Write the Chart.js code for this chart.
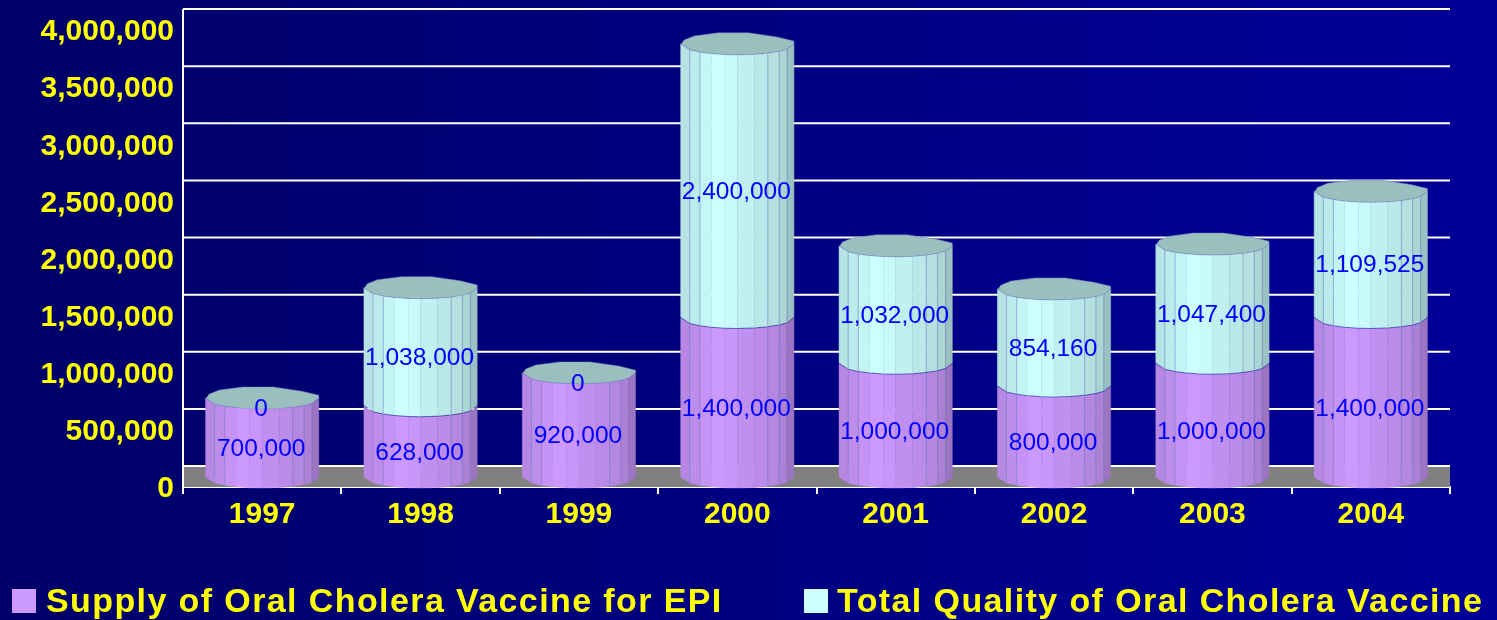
<!DOCTYPE html>
<html>
<head>
<meta charset="utf-8">
<title>Oral Cholera Vaccine</title>
<script src="https://cdn.jsdelivr.net/npm/chart.js@4/dist/chart.umd.min.js"></script>
<style>
html, body { margin: 0; padding: 0; width: 1497px; height: 620px; overflow: hidden;
  background: linear-gradient(to right, #000068, #000099); }
canvas { display: block; }
</style>
</head>
<body>
<canvas id="chart" width="1497" height="620"></canvas>
<script>
const years = ['1997', '1998', '1999', '2000', '2001', '2002', '2003', '2004'];
const supplyEpi = [700000, 628000, 920000, 1400000, 1000000, 800000, 1000000, 1400000];
const totalQuality = [0, 1038000, 0, 2400000, 1032000, 854160, 1047400, 1109525];
const seriesNames = ['Supply of Oral Cholera Vaccine for EPI', 'Total Quality of Oral Cholera Vaccine'];

const FONT = '"Liberation Sans", Arial, sans-serif';
const DEPTH = 21;      // back wall sits this far above the front plane
const RY = 11;         // cylinder ellipse height
const facets = [0, .08, .17, .27, .39, .5, .65, .77, .87, .94, 1];
const shades = [.89, .92, .96, 1, .98, .94, .91, .88, .84, .76];
const bodyColors = [[204, 153, 255], [204, 255, 255]];
const capBack = [[1, -.25], [.85, -.62], [.6, -1], [.33, -1], [.12, -.72], [.03, -.35], [0, .1]];

function curve(f) {
    return Math.sqrt(Math.max(0, 1 - Math.pow(2 * f - 1, 2)));
}

function drawBody(ctx, bar, rgb) {
    var left = bar.x - bar.width / 2;
    var topC = bar.y - RY + 2;
    var botC = bar.base - RY + 1;
    for (var k = 0; k < shades.length; k++) {
        var x0 = left + facets[k] * bar.width, x1 = left + facets[k + 1] * bar.width;
        var c0 = curve(facets[k]) * RY, c1 = curve(facets[k + 1]) * RY;
        ctx.beginPath();
        ctx.moveTo(x0, topC + c0);
        ctx.lineTo(x1, topC + c1);
        ctx.lineTo(x1, botC + c1);
        ctx.lineTo(x0, botC + c0);
        ctx.closePath();
        ctx.fillStyle = 'rgb(' + rgb.map(v => Math.round(v * shades[k])).join(',') + ')';
        ctx.fill();
        ctx.strokeStyle = ctx.fillStyle;
        ctx.lineWidth = 0.5;
        ctx.stroke();
    }
    // facet lines, the middle ones do not show
    ctx.strokeStyle = 'rgba(120,125,190,0.5)';
    ctx.lineWidth = 1;
    facets.forEach(function (f) {
        if (f === 0 || f === 1 || (f > .2 && f < .7)) return;
        var x = left + f * bar.width, c = curve(f) * RY;
        ctx.beginPath();
        ctx.moveTo(x, topC + c);
        ctx.lineTo(x, botC + c);
        ctx.stroke();
    });
}

function drawCap(ctx, bar) {
    var left = bar.x - bar.width / 2;
    var c = bar.y - RY + 2;
    ctx.beginPath();
    facets.forEach(function (f, i) {
        var x = left + f * bar.width, y = c + curve(f) * RY;
        if (i === 0) ctx.moveTo(x, y); else ctx.lineTo(x, y);
    });
    capBack.forEach(function (p) {
        ctx.lineTo(left + p[0] * bar.width, c + p[1] * RY);
    });
    ctx.closePath();
    ctx.fillStyle = '#99bfbf';
    ctx.fill();
    ctx.strokeStyle = 'rgba(120,125,190,0.5)';
    ctx.lineWidth = 1;
    ctx.stroke();
}

const wallPlugin = {
    id: 'wall',
    beforeDatasetsDraw(chart) {
        var ctx = chart.ctx, area = chart.chartArea, y = chart.scales.y;
        ctx.save();
        ctx.fillStyle = '#808080';
        ctx.fillRect(area.left, y.getPixelForValue(0) - DEPTH, area.right - area.left, DEPTH);
        ctx.strokeStyle = '#ffffff';
        ctx.lineWidth = 2;
        y.ticks.forEach(function (t) {
            var py = y.getPixelForValue(t.value) - DEPTH;
            ctx.beginPath();
            ctx.moveTo(area.left, py);
            ctx.lineTo(area.right, py);
            ctx.stroke();
        });
        ctx.beginPath();
        ctx.moveTo(area.left, area.top - DEPTH);
        ctx.lineTo(area.left, area.bottom);
        ctx.stroke();
        ctx.restore();
    }
};

const cylinderPlugin = {
    id: 'cylinders',
    afterDatasetsDraw(chart) {
        var ctx = chart.ctx;
        var lower = chart.getDatasetMeta(0).data, upper = chart.getDatasetMeta(1).data;
        ctx.save();
        lower.forEach(function (bar, i) {
            drawBody(ctx, bar, bodyColors[0]);
            if (totalQuality[i] > 0) drawBody(ctx, upper[i], bodyColors[1]);
            drawCap(ctx, upper[i]);
        });
        // value labels
        ctx.font = '24.5px ' + FONT;
        ctx.fillStyle = '#0000ff';
        ctx.textAlign = 'center';
        ctx.textBaseline = 'middle';
        chart.data.datasets.forEach(function (ds, d) {
            chart.getDatasetMeta(d).data.forEach(function (bar, i) {
                ctx.fillText(ds.data[i].toLocaleString('en-US'), bar.x - 1, (bar.y + bar.base) / 2 + 2);
            });
        });
        ctx.restore();
    }
};

const legendPlugin = {
    id: 'bottomLegend',
    afterDraw(chart) {
        var ctx = chart.ctx;
        var spots = [{ box: 12, text: 46 }, { box: 804, text: 837 }];
        ctx.save();
        ctx.font = 'bold 34px ' + FONT;
        ctx.letterSpacing = '1.4px';
        ctx.textAlign = 'left';
        ctx.textBaseline = 'alphabetic';
        chart.data.datasets.forEach(function (ds, d) {
            ctx.fillStyle = 'rgb(' + bodyColors[d].join(',') + ')';
            ctx.fillRect(spots[d].box, 589, 24, 24);
            ctx.fillStyle = '#ffff00';
            ctx.fillText(ds.label, spots[d].text, 612);
        });
        ctx.restore();
    }
};

new Chart(document.getElementById('chart').getContext('2d'), {
    type: 'bar',
    data: {
        labels: years,
        datasets: [
            { label: seriesNames[0], data: supplyEpi, backgroundColor: 'transparent' },
            { label: seriesNames[1], data: totalQuality, backgroundColor: 'transparent' }
        ]
    },
    options: {
        responsive: false,
        animation: false,
        layout: { padding: { top: 30, right: 47 } },
        categoryPercentage: 1,
        barPercentage: 0.715,
        plugins: { legend: { display: false }, tooltip: { enabled: false } },
        scales: {
            x: {
                stacked: true,
                afterFit(scale) { scale.height = 133; },
                grid: { drawOnChartArea: false, color: '#ffffff', lineWidth: 2, tickLength: 7 },
                border: { color: '#ffffff', width: 2 },
                ticks: { color: '#ffff00', font: { family: FONT, size: 30, weight: 'bold' }, padding: 3, maxRotation: 0 }
            },
            y: {
                stacked: true,
                min: 0,
                max: 4000000,
                afterFit(scale) { scale.width = 183; },
                grid: { display: false },
                border: { display: false },
                ticks: {
                    stepSize: 500000,
                    color: '#ffff00',
                    font: { family: FONT, size: 30, weight: 'bold' },
                    padding: 1,
                    labelOffset: 2,
                    callback: v => v.toLocaleString('en-US')
                }
            }
        }
    },
    plugins: [wallPlugin, cylinderPlugin, legendPlugin]
});
</script>
</body>
</html>
